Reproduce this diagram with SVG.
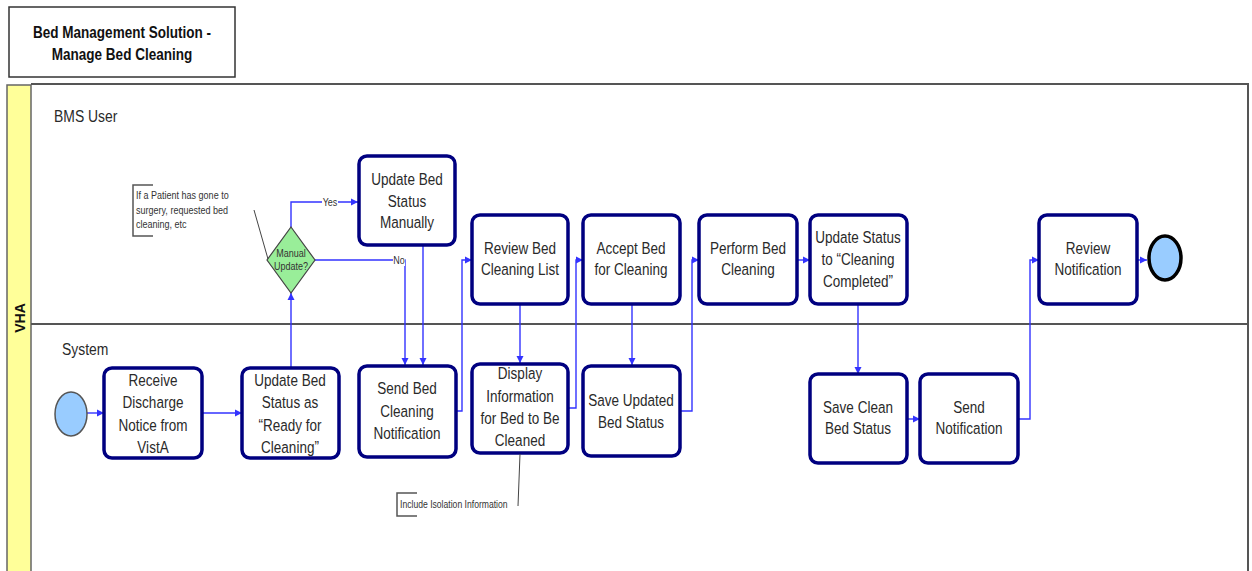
<svg xmlns="http://www.w3.org/2000/svg" width="1252" height="571" viewBox="0 0 1252 571">
<defs>
<style>
.box{fill:#fff;stroke:#000080;stroke-width:3.5}
.t{font-family:"Liberation Sans","Arial",sans-serif;font-size:16.5px;fill:#2a2a2a;text-anchor:middle}
.lbl{font-family:"Liberation Sans","Arial",sans-serif;font-size:17px;fill:#2a2a2a}
.note{font-family:"Liberation Sans","Arial",sans-serif;font-size:11px;fill:#333}
.ttl{font-family:"Liberation Sans","Arial",sans-serif;font-size:16.5px;font-weight:bold;text-anchor:middle;fill:#111}
.c{fill:none;stroke:#3333ff;stroke-width:1.4;marker-end:url(#ah)}
.lane{fill:none;stroke:#555;stroke-width:2}
</style>
<marker id="ah" markerUnits="userSpaceOnUse" markerWidth="8" markerHeight="8" refX="7" refY="4" orient="auto">
<path d="M0,0.5 L7,4 L0,7.5 z" fill="#3333ff"/>
</marker>
</defs>
<rect width="1252" height="571" fill="#fff"/>
<g id="title">
<rect x="9" y="7" width="226" height="70" fill="#fff" stroke="#333" stroke-width="1.5"/>
<text class="ttl" transform="translate(122 38) scale(0.82 1)">Bed Management Solution -</text>
<text class="ttl" transform="translate(122 60) scale(0.82 1)">Manage Bed Cleaning</text>
</g>
<g id="pool">
<rect x="7" y="85" width="24" height="490" fill="#ffff99" stroke="#666" stroke-width="1.5"/>
<path class="lane" d="M31,84 H1248 V575"/>
<path class="lane" d="M31,324 H1248"/>
<text transform="translate(25,318) rotate(-90)" style="font-family:'Liberation Sans','Arial',sans-serif;font-size:14px;font-weight:bold;text-anchor:middle;fill:#111">VHA</text>
<text class="lbl" transform="translate(54 122) scale(0.82 1)">BMS User</text>
<text class="lbl" transform="translate(62 355) scale(0.82 1)">System</text>
</g>
<g id="connectors">
<path class="c" d="M87,413 H104"/>
<path class="c" d="M202,413 H242"/>
<path class="c" d="M291,368 V293"/>
<path class="c" d="M291,227 V202 H358"/>
<path class="c" d="M315,260 H405 V365"/>
<path class="c" d="M423,245 V365"/>
<path class="c" d="M456,411 H462 V260 H472"/>
<path class="c" d="M520,304 V363"/>
<path class="c" d="M568,408 H576 V260 H583"/>
<path class="c" d="M632,304 V365"/>
<path class="c" d="M680,411 H692 V260 H699"/>
<path class="c" d="M797,260 H810"/>
<path class="c" d="M858,304 V374"/>
<path class="c" d="M907,419 H920"/>
<path class="c" d="M1018,419 H1030 V260 H1039"/>
<path class="c" d="M1137,260 H1147"/>
<rect x="322" y="196" width="16" height="12" fill="#fff"/>
<text class="note" transform="translate(330 206) scale(0.82 1)" text-anchor="middle">Yes</text>
<rect x="393" y="254" width="12" height="12" fill="#fff"/>
<text class="note" transform="translate(399 264) scale(0.82 1)" text-anchor="middle">No</text>
</g>
<g id="start"><ellipse cx="71" cy="414" rx="16" ry="22" fill="#99ccff" stroke="#555" stroke-width="1.5"/></g>
<g id="end"><ellipse cx="1165" cy="258" rx="16" ry="22" fill="#99ccff" stroke="#000" stroke-width="3.5"/></g>
<g id="decision">
<polygon points="291,227 315,260 291,293 267,260" fill="#99ee99" stroke="#444" stroke-width="1.2"/>
<text class="note" transform="translate(291 257) scale(0.82 1)" text-anchor="middle" style="font-size:11px">Manual</text>
<text class="note" transform="translate(291 270) scale(0.82 1)" text-anchor="middle" style="font-size:11px">Update?</text>
</g>
<g id="n-receive">
<rect class="box" x="104" y="368" width="98" height="90" rx="8"/>
<text class="t" transform="translate(153 386) scale(0.82 1)">Receive</text>
<text class="t" transform="translate(153 408) scale(0.82 1)">Discharge</text>
<text class="t" transform="translate(153 431) scale(0.82 1)">Notice from</text>
<text class="t" transform="translate(153 453) scale(0.82 1)">VistA</text>
</g>
<g id="n-ready">
<rect class="box" x="242" y="368" width="97" height="90" rx="8"/>
<text class="t" transform="translate(290 386) scale(0.82 1)">Update Bed</text>
<text class="t" transform="translate(290 408) scale(0.82 1)">Status as</text>
<text class="t" transform="translate(290 431) scale(0.82 1)">“Ready for</text>
<text class="t" transform="translate(290 453) scale(0.82 1)">Cleaning”</text>
</g>
<g id="n-manual">
<rect class="box" x="359" y="156" width="96" height="89" rx="8"/>
<text class="t" transform="translate(407 185) scale(0.82 1)">Update Bed</text>
<text class="t" transform="translate(407 207) scale(0.82 1)">Status</text>
<text class="t" transform="translate(407 228) scale(0.82 1)">Manually</text>
</g>
<g id="n-sendbed">
<rect class="box" x="359" y="366" width="97" height="91" rx="8"/>
<text class="t" transform="translate(407 394) scale(0.82 1)">Send Bed</text>
<text class="t" transform="translate(407 417) scale(0.82 1)">Cleaning</text>
<text class="t" transform="translate(407 439) scale(0.82 1)">Notification</text>
</g>
<g id="n-review">
<rect class="box" x="472" y="215" width="96" height="89" rx="8"/>
<text class="t" transform="translate(520 254) scale(0.82 1)">Review Bed</text>
<text class="t" transform="translate(520 275) scale(0.82 1)">Cleaning List</text>
</g>
<g id="n-display">
<rect class="box" x="472" y="364" width="96" height="89" rx="8"/>
<text class="t" transform="translate(520 379) scale(0.82 1)">Display</text>
<text class="t" transform="translate(520 402) scale(0.82 1)">Information</text>
<text class="t" transform="translate(520 424) scale(0.82 1)">for Bed to Be</text>
<text class="t" transform="translate(520 446) scale(0.82 1)">Cleaned</text>
</g>
<g id="n-accept">
<rect class="box" x="583" y="215" width="97" height="89" rx="8"/>
<text class="t" transform="translate(631 254) scale(0.82 1)">Accept Bed</text>
<text class="t" transform="translate(631 275) scale(0.82 1)">for Cleaning</text>
</g>
<g id="n-saveupd">
<rect class="box" x="583" y="366" width="97" height="90" rx="8"/>
<text class="t" transform="translate(631 406) scale(0.82 1)">Save Updated</text>
<text class="t" transform="translate(631 428) scale(0.82 1)">Bed Status</text>
</g>
<g id="n-perform">
<rect class="box" x="699" y="215" width="98" height="89" rx="8"/>
<text class="t" transform="translate(748 254) scale(0.82 1)">Perform Bed</text>
<text class="t" transform="translate(748 275) scale(0.82 1)">Cleaning</text>
</g>
<g id="n-updstatus">
<rect class="box" x="810" y="215" width="97" height="89" rx="8"/>
<text class="t" transform="translate(858 243) scale(0.82 1)">Update Status</text>
<text class="t" transform="translate(858 265) scale(0.82 1)">to “Cleaning</text>
<text class="t" transform="translate(858 287) scale(0.82 1)">Completed”</text>
</g>
<g id="n-saveclean">
<rect class="box" x="810" y="374" width="97" height="89" rx="8"/>
<text class="t" transform="translate(858 413) scale(0.82 1)">Save Clean</text>
<text class="t" transform="translate(858 434) scale(0.82 1)">Bed Status</text>
</g>
<g id="n-sendnotif">
<rect class="box" x="920" y="374" width="98" height="89" rx="8"/>
<text class="t" transform="translate(969 413) scale(0.82 1)">Send</text>
<text class="t" transform="translate(969 434) scale(0.82 1)">Notification</text>
</g>
<g id="n-reviewnotif">
<rect class="box" x="1039" y="215" width="98" height="89" rx="8"/>
<text class="t" transform="translate(1088 254) scale(0.82 1)">Review</text>
<text class="t" transform="translate(1088 275) scale(0.82 1)">Notification</text>
</g>
<g id="note1">
<path d="M153,185 H133 V236 H153" fill="none" stroke="#555" stroke-width="1.5"/>
<text class="note" transform="translate(136 199) scale(0.82 1)">If a Patient has gone to</text>
<text class="note" transform="translate(136 214) scale(0.82 1)">surgery, requested bed</text>
<text class="note" transform="translate(136 228) scale(0.82 1)">cleaning, etc</text>
<path d="M254,210 L268,259" fill="none" stroke="#444" stroke-width="1"/>
</g>
<g id="note2">
<path d="M417,493 H397 V516 H417" fill="none" stroke="#555" stroke-width="1.5"/>
<text class="note" transform="translate(400 508) scale(0.82 1)" style="font-size:10.5px">Include Isolation Information</text>
<path d="M520,454 L518,506" fill="none" stroke="#444" stroke-width="1"/>
</g>
</svg>
